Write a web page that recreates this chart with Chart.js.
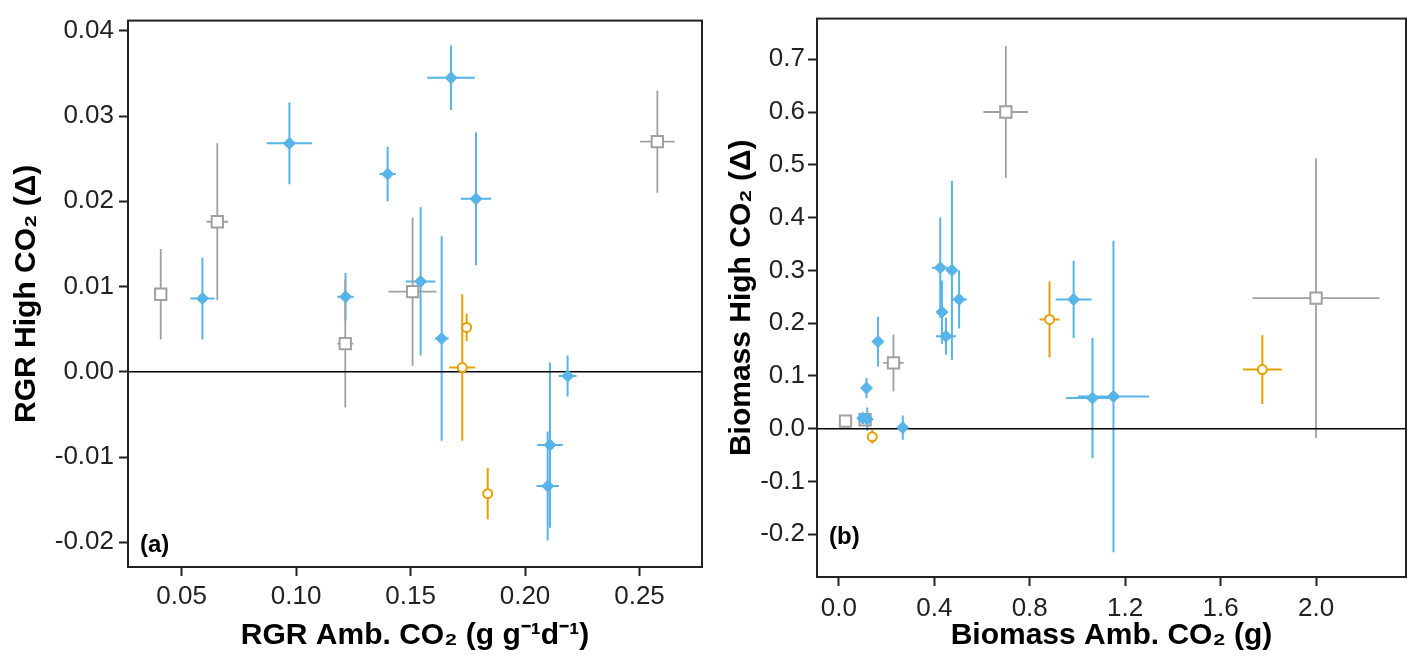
<!DOCTYPE html>
<html>
<head>
<meta charset="utf-8">
<script src="https://cdn.jsdelivr.net/npm/chart.js@4.4.1/dist/chart.umd.min.js"></script>
<style>
  body { margin:0; background:#fff; }
  #wrapA { position:absolute; left:0; top:0; width:712px; height:660px; }
  #wrapB { position:absolute; left:712px; top:0; width:704px; height:660px; }
</style>
</head>
<body>
<div id="wrapA"><canvas id="chartA"></canvas></div>
<div id="wrapB"><canvas id="chartB"></canvas></div>
<script>
// ---- panel (a): RGR ----
var aGrayX    = [0.0409, 0.0656, 0.1215, 0.1509, 0.2578];
var aGrayY    = [0.0091, 0.0176, 0.0033, 0.0094, 0.0270];
var aGrayXerr = [0.0015, 0.0047, 0.0035, 0.0105, 0.0076];
var aGrayYerr = [0.0053, 0.0092, 0.0075, 0.0087, 0.0060];

var aBlueX    = [0.0591, 0.0971, 0.1400, 0.1216, 0.1677, 0.1786, 0.1544, 0.1636, 0.2109, 0.2099, 0.2186];
var aBlueY    = [0.0086, 0.0268, 0.0232, 0.0088, 0.0345, 0.0203, 0.0106, 0.0039, -0.0086, -0.0134, -0.0005];
var aBlueXerr = [0.0053, 0.0099, 0.0036, 0.0036, 0.0104, 0.0067, 0.0065, 0.0030, 0.0056, 0.0049, 0.0039];
var aBlueYerr = [0.0048, 0.0048, 0.0032, 0.0028, 0.0038, 0.0078, 0.0087, 0.0120, 0.0097, 0.0064, 0.0024];

var aOrangeX    = [0.1745, 0.1726, 0.1837];
var aOrangeY    = [0.0052, 0.0005, -0.0143];
var aOrangeXerr = [0.0012, 0.0057, 0.0010];
var aOrangeYerr = [0.0016, 0.0086, 0.0030];

var aXTicks = [0.05, 0.10, 0.15, 0.20, 0.25];
var aYTicks = [-0.02, -0.01, 0.00, 0.01, 0.02, 0.03, 0.04];

// ---- panel (b): Biomass ----
var bGrayX    = [2.00, 0.70, 0.229, 0.028, 0.110];
var bGrayY    = [0.2475, 0.600, 0.1247, 0.0144, 0.017];
var bGrayXerr = [0.266, 0.094, 0.043, 0.012, 0.012];
var bGrayYerr = [0.265, 0.125, 0.054, 0.008, 0.008];

var bBlueX    = [0.164, 0.116, 0.119, 0.100, 0.268, 0.425, 0.432, 0.474, 0.504, 0.449, 0.984, 1.063, 1.151];
var bBlueY    = [0.165, 0.077, 0.018, 0.020, 0.002, 0.305, 0.221, 0.300, 0.245, 0.175, 0.245, 0.058, 0.061];
var bBlueXerr = [0.010, 0.010, 0.015, 0.010, 0.010, 0.035, 0.015, 0.020, 0.033, 0.042, 0.075, 0.110, 0.149];
var bBlueYerr = [0.047, 0.019, 0.022, 0.010, 0.023, 0.095, 0.060, 0.170, 0.055, 0.035, 0.073, 0.114, 0.295];

var bOrangeX    = [0.883, 0.140, 1.775];
var bOrangeY    = [0.207, -0.0155, 0.112];
var bOrangeXerr = [0.042, 0.010, 0.081];
var bOrangeYerr = [0.072, 0.013, 0.065];

var bXTicks = [0.0, 0.4, 0.8, 1.2, 1.6, 2.0];
var bYTicks = [-0.2, -0.1, 0.0, 0.1, 0.2, 0.3, 0.4, 0.5, 0.6, 0.7];

var GRAY = '#a0a0a0', BLUE = '#56b4e9', ORANGE = '#e69f00';
var FONT = "'Liberation Sans', Arial, sans-serif";

function pts(x, y, xe, ye){
    return x.map(function(v, i){ return {x:v, y:y[i], xe:xe[i], ye:ye[i]}; });
}

// error bars + zero line under the markers, frame and panel letter on top
var errPlugin = {
    id: 'errbars',
    beforeDatasetsDraw: function(chart){
        var ctx = chart.ctx, xs = chart.scales.x, ys = chart.scales.y, ca = chart.chartArea;
        ctx.save();
        ctx.beginPath();
        ctx.rect(ca.left, ca.top, ca.right - ca.left, ca.bottom - ca.top);
        ctx.clip();
        chart.data.datasets.forEach(function(ds){
            ctx.strokeStyle = ds.borderColor;
            ctx.lineWidth = ds.errWidth;
            ds.data.forEach(function(p){
                var px = xs.getPixelForValue(p.x), py = ys.getPixelForValue(p.y);
                ctx.beginPath();
                ctx.moveTo(xs.getPixelForValue(p.x - p.xe), py);
                ctx.lineTo(xs.getPixelForValue(p.x + p.xe), py);
                ctx.moveTo(px, ys.getPixelForValue(p.y - p.ye));
                ctx.lineTo(px, ys.getPixelForValue(p.y + p.ye));
                ctx.stroke();
            });
        });
        var y0 = ys.getPixelForValue(0);
        ctx.strokeStyle = '#000';
        ctx.lineWidth = 1.5;
        ctx.beginPath();
        ctx.moveTo(ca.left, y0);
        ctx.lineTo(ca.right, y0);
        ctx.stroke();
        ctx.restore();
    },
    afterDraw: function(chart){
        var ctx = chart.ctx, ca = chart.chartArea;
        ctx.save();
        ctx.strokeStyle = '#222';
        ctx.lineWidth = 2;
        ctx.strokeRect(ca.left, ca.top, ca.right - ca.left, ca.bottom - ca.top);
        ctx.fillStyle = '#000';
        ctx.font = 'bold 24px ' + FONT;
        ctx.textBaseline = 'middle';
        ctx.fillText(chart.options.panelLabel, ca.left + 12, ca.bottom - chart.options.panelLabelUp);
        ctx.restore();
    }
};

function makeChart(id, cfg){
    var datasets = [
        {label:'orange', data:pts(cfg.oX, cfg.oY, cfg.oXe, cfg.oYe), borderColor:ORANGE, errWidth:2,
         backgroundColor:'#fff', pointStyle:'circle', pointRadius:4.5, pointBorderWidth:2},
        {label:'blue', data:pts(cfg.bX, cfg.bY, cfg.bXe, cfg.bYe), borderColor:BLUE, errWidth:2,
         backgroundColor:BLUE, pointStyle:'rectRot', pointRadius:6, pointBorderWidth:1},
        {label:'gray', data:pts(cfg.gX, cfg.gY, cfg.gXe, cfg.gYe), borderColor:GRAY, errWidth:1.8,
         backgroundColor:'#fff', pointStyle:'rect', pointRadius:8, pointBorderWidth:2}
    ];
    return new Chart(document.getElementById(id), {
        type: 'scatter',
        data: {datasets: datasets},
        plugins: [errPlugin],
        options: {
            responsive: true,
            maintainAspectRatio: false,
            animation: false,
            panelLabel: cfg.label,
            panelLabelUp: cfg.labelUp,
            layout: {padding: {top:10, right:cfg.padRight, left:0, bottom:0}},
            plugins: {legend:{display:false}, tooltip:{enabled:false}},
            scales: {
                x: {
                    type:'linear', min:cfg.xMin, max:cfg.xMax,
                    afterBuildTicks: function(s){ s.ticks = cfg.xTicks.map(function(v){ return {value:v}; }); },
                    afterFit: function(s){ s.height = cfg.xHeight; },
                    grid: {drawOnChartArea:false, drawTicks:true, tickLength:9, tickWidth:2, color:'#222'},
                    border: {display:true, color:'#222', width:2},
                    ticks: {font:{family:FONT, size:26}, color:'#222', padding:cfg.xTickPad,
                            callback: function(v){ return v.toFixed(cfg.xDec); }},
                    title: {display:true, text:cfg.xTitle, color:'#000',
                            font:{family:FONT, size:30, weight:'bold'}, padding:{top:0, bottom:6}}
                },
                y: {
                    type:'linear', min:cfg.yMin, max:cfg.yMax,
                    afterBuildTicks: function(s){ s.ticks = cfg.yTicks.map(function(v){ return {value:v}; }); },
                    afterFit: function(s){ s.width = cfg.yWidth; },
                    grid: {drawOnChartArea:false, drawTicks:true, tickLength:9, tickWidth:2, color:'#222'},
                    border: {display:true, color:'#222', width:2},
                    ticks: {font:{family:FONT, size:26}, color:'#222', padding:cfg.yTickPad,
                            callback: function(v){ return v.toFixed(cfg.yDec); }},
                    title: {display:true, text:cfg.yTitle, color:'#000',
                            font:{family:FONT, size:30, weight:'bold'}, padding:{top:cfg.yTitlePad, bottom:0}}
                }
            }
        }
    });
}

var chartA = makeChart('chartA', {
    label:'(a)', labelUp:22,
    gX:aGrayX, gY:aGrayY, gXe:aGrayXerr, gYe:aGrayYerr,
    bX:aBlueX, bY:aBlueY, bXe:aBlueXerr, bYe:aBlueYerr,
    oX:aOrangeX, oY:aOrangeY, oXe:aOrangeXerr, oYe:aOrangeYerr,
    xMin:0.0266, xMax:0.2773, yMin:-0.0229, yMax:0.0412,
    xTicks:aXTicks, yTicks:aYTicks, xDec:2, yDec:2,
    xTitle:'RGR Amb. CO\u2082 (g g\u207B\u00B9d\u207B\u00B9)', yTitle:'RGR High CO\u2082 (\u0394)',
    yWidth:128, xHeight:93, padRight:10, yTitlePad:9, xTickPad:5, yTickPad:5
});

var chartB = makeChart('chartB', {
    label:'(b)', labelUp:40,
    gX:bGrayX, gY:bGrayY, gXe:bGrayXerr, gYe:bGrayYerr,
    bX:bBlueX, bY:bBlueY, bXe:bBlueXerr, bYe:bBlueYerr,
    oX:bOrangeX, oY:bOrangeY, oXe:bOrangeXerr, oYe:bOrangeYerr,
    xMin:-0.0915, xMax:2.377, yMin:-0.281, yMax:0.777,
    xTicks:bXTicks, yTicks:bYTicks, xDec:1, yDec:1,
    xTitle:'Biomass Amb. CO\u2082 (g)', yTitle:'Biomass High CO\u2082 (\u0394)',
    yWidth:105, xHeight:83, padRight:9, yTitlePad:12, xTickPad:7, yTickPad:3
});
</script>
</body>
</html>
